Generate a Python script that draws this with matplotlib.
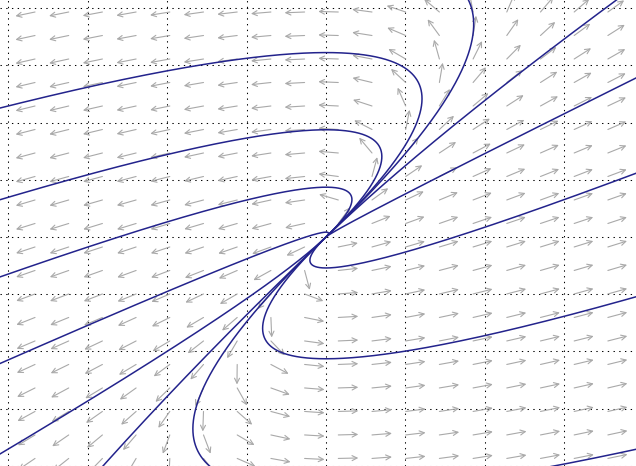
import numpy as np
import matplotlib
matplotlib.use("Agg")
import matplotlib.pyplot as plt
from matplotlib.patches import FancyArrowPatch

# ---- data -------------------------------------------------------------
# linear system  x' = 3x - 2y ,  y' = x
system_matrix = [[3.0, -2.0],
                 [1.0, 0.0]]

# one point
traj_x = [-4.106, -1.751, -2.003, -2.254, -4.106, -2.809, -1.675,
          1.839, 3.539, 3.904, 1.625, 0.932]
traj_y = [1.691, 1.141, 0.197, -0.826, -2.845, -3.003, -2.570,
          2.976, 3.016, 2.085, 0.000, -1.508]

# grid line positions
grid_x = [-4, -3, -2, -1, 0, 1, 2, 3]
grid_y = [-3.0, -2.25, -1.5, -0.75, 0.0, 0.75, 1.5, 2.25, 3.0]

# window
x_min, x_max = -4.106, 3.904
y_min, y_max = -3.003, 3.1075

# direction-field sampling
field_x0, field_dx, field_nx = -3.665, 0.4244, 18
field_y0, field_dy, field_ny = 2.950, -0.3081, 20

# ---- figure -----------------------------------------------------------
W, H = 636, 466
fig = plt.figure(figsize=(W / 100, H / 100), dpi=100)
ax = fig.add_axes([0, 0, 1, 1])
ax.set_xlim(x_min, x_max)
ax.set_ylim(y_min, y_max)
ax.axis("off")
fig.patch.set_facecolor("white")

# dotted grid
for gx in grid_x:
    ax.axvline(gx, color="black", lw=0.75, ls=(0, (1.3, 4.2)), zorder=1)
for gy in grid_y:
    ax.axhline(gy, color="black", lw=0.75, ls=(0, (1.3, 4.2)), zorder=1)

A = np.array(system_matrix)
px_per_x = W / (x_max - x_min)
px_per_y = H / (y_max - y_min)
arrow_len_px = 20.0

for i in range(field_nx):
    for j in range(field_ny):
        x0 = field_x0 + i * field_dx
        y0 = field_y0 + j * field_dy
        vx, vy = A @ np.array([x0, y0])
        dxp, dyp = vx * px_per_x, vy * px_per_y
        n = np.hypot(dxp, dyp)
        if n == 0:
            continue
        dxp, dyp = dxp / n * arrow_len_px, dyp / n * arrow_len_px
        x1 = x0 + dxp / px_per_x
        y1 = y0 + dyp / px_per_y
        ar = FancyArrowPatch((x0, y0), (x1, y1), arrowstyle="->",
                             mutation_scale=9, color="#a9a9a9", lw=0.8,
                             shrinkA=0, shrinkB=0, zorder=2)
        ax.add_patch(ar)

# solution curves
evals, evecs = np.linalg.eig(A)
t = np.linspace(-16, 6, 9000)
for px0, py0 in zip(traj_x, traj_y):
    c = np.linalg.solve(evecs, np.array([px0, py0]))
    pts = evecs @ (c[:, None] * np.exp(np.outer(evals, t)))
    X, Y = pts[0].real, pts[1].real
    far = (np.abs(X) > 40) | (np.abs(Y) > 40)
    X = np.where(far, np.nan, X)
    Y = np.where(far, np.nan, Y)
    ax.plot(X, Y, color="#23238c", lw=1.1, zorder=3)

fig.savefig("out.png", dpi=100)
